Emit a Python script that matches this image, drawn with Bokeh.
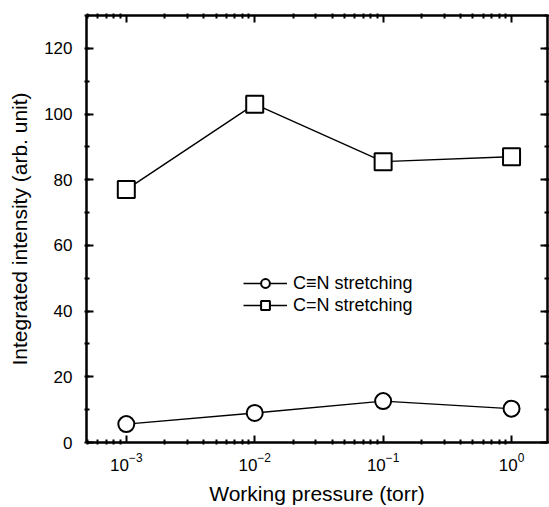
from bokeh.plotting import figure
from bokeh.models import (Range1d, LinearAxis, LogAxis, FixedTicker, SingleIntervalTicker,
                          Legend, LegendItem, LogTickFormatter)
from bokeh.embed import file_html
from bokeh.resources import INLINE

# Working pressure (torr) and integrated band intensities (arb. unit)
pressure = [1e-3, 1e-2, 1e-1, 1e0]
triple_cn = [5.6, 9.0, 12.6, 10.3]     # C≡N stretching
double_cn = [77.0, 103.0, 85.5, 87.0]  # C=N stretching

x_tick_values = [1e-3, 1e-2, 1e-1, 1e0]

FONT = "Liberation Sans"

p = figure(width=549, height=507, x_axis_type="log",
           x_range=Range1d(10 ** -3.31, 10 ** 0.28), y_range=Range1d(0, 130),
           output_backend="svg", toolbar_location=None,
           min_border_left=86, min_border_right=0, min_border_top=15, min_border_bottom=62)
p.background_fill_color = "white"
p.border_fill_color = "white"
p.grid.visible = False
p.outline_line_color = "black"
p.outline_line_width = 2

minor_x = [m * 10.0 ** e for e in range(-4, 1) for m in range(2, 10)]
x_ticker = FixedTicker(ticks=x_tick_values, minor_ticks=minor_x)
y_ticker = SingleIntervalTicker(interval=20, num_minor_ticks=2)


def style_axis(ax, show_labels):
    ax.axis_line_color = "black"
    ax.axis_line_width = 2
    ax.major_tick_line_color = "black"
    ax.major_tick_line_width = 2
    ax.minor_tick_line_color = "black"
    ax.minor_tick_line_width = 2
    ax.major_tick_in = 7
    ax.major_tick_out = 0
    ax.minor_tick_in = 3
    ax.minor_tick_out = 2
    if not show_labels:
        # tick marks only, no numbers on the mirrored edges
        ax.major_label_text_font_size = "1px"
        ax.major_label_text_color = None
        ax.major_label_standoff = 0


xa = p.xaxis[0]
xa.ticker = x_ticker
xa.formatter = LogTickFormatter(min_exponent=0)
xa.axis_label = "Working pressure (torr)"
style_axis(xa, True)
xa.major_label_standoff = 8
xa.axis_label_standoff = 8

ya = p.yaxis[0]
ya.ticker = y_ticker
ya.axis_label = "Integrated intensity (arb. unit)"
style_axis(ya, True)
ya.major_label_standoff = 12
ya.axis_label_standoff = 10

for ax in (xa, ya):
    ax.major_label_text_font = FONT
    ax.major_label_text_font_size = "17px"
    ax.major_label_text_color = "black"
    ax.axis_label_text_font = FONT
    ax.axis_label_text_font_size = "21px"
    ax.axis_label_text_font_style = "normal"
    ax.axis_label_text_color = "black"

# mirrored ticks on the top and right edges of the frame
top = LogAxis(ticker=x_ticker)
style_axis(top, False)
p.add_layout(top, "above")
right = LinearAxis(ticker=y_ticker)
style_axis(right, False)
p.add_layout(right, "right")

l1 = p.line(pressure, triple_cn, line_color="black", line_width=1.4)
s1 = p.scatter(pressure, triple_cn, marker="circle", size=16, fill_color="white",
               line_color="black", line_width=2)
l2 = p.line(pressure, double_cn, line_color="black", line_width=1.4)
s2 = p.scatter(pressure, double_cn, marker="square", size=17, fill_color="white",
               line_color="black", line_width=2)

legend = Legend(items=[LegendItem(label="C≡N stretching", renderers=[l1, s1]),
                       LegendItem(label="C=N stretching", renderers=[l2, s2])],
                location=(157, 126), padding=0, margin=0, spacing=0,
                glyph_width=44, glyph_height=22, label_height=22, label_standoff=6,
                background_fill_alpha=0, border_line_color=None,
                label_text_font=FONT, label_text_font_size="18px", label_text_color="black")
p.add_layout(legend, "center")

open("out.html", "w").write(file_html(p, INLINE))
